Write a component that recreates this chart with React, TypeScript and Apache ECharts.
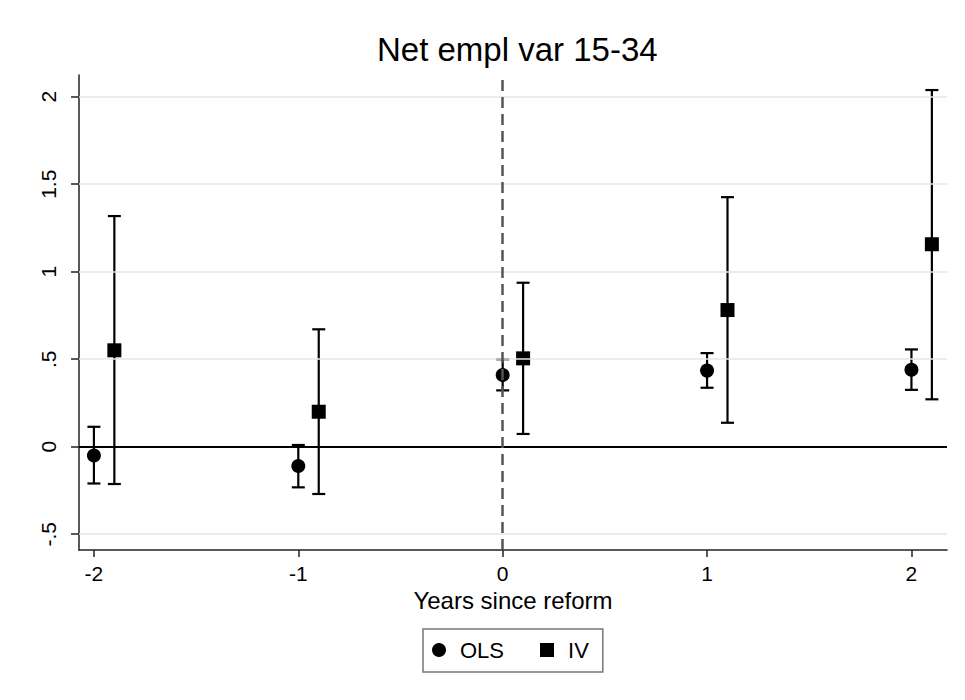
import React, { useEffect, useRef } from "react";
import * as echarts from "echarts";

const titleText = "Net empl var 15-34";
const xAxisName = "Years since reform";
const xTicks = [-2, -1, 0, 1, 2];
const yTicks = [-0.5, 0, 0.5, 1, 1.5, 2];
const yGridValues = [-0.5, 0.5, 1, 1.5, 2];

const olsX = [-2, -1, 0, 1, 2];
const olsEst = [-0.05, -0.11, 0.41, 0.435, 0.44];
const olsLo = [-0.21, -0.232, 0.322, 0.337, 0.325];
const olsHi = [0.114, 0.01, 0.5, 0.535, 0.556];

const ivX = [-1.9, -0.9, 0.1, 1.1, 2.1];
const ivEst = [0.551, 0.2, 0.505, 0.781, 1.157];
const ivLo = [-0.213, -0.27, 0.073, 0.137, 0.271];
const ivHi = [1.318, 0.671, 0.937, 1.426, 2.038];

const FONT = "Liberation Sans";

function fmt(v: number): string {
  if (v === 0) return "0";
  return String(v).replace("0.", ".");
}

function errorBarRender(params: any, api: any) {
  const x = api.value(0);
  const lo = api.coord([x, api.value(1)]);
  const hi = api.coord([x, api.value(2)]);
  const hw = 6.5;
  const style = { stroke: "#000", lineWidth: 2.2 };
  return {
    type: "group",
    children: [
      { type: "line", shape: { x1: lo[0], y1: lo[1], x2: hi[0], y2: hi[1] }, style },
      { type: "line", shape: { x1: lo[0] - hw, y1: lo[1], x2: lo[0] + hw, y2: lo[1] }, style },
      { type: "line", shape: { x1: hi[0] - hw, y1: hi[1], x2: hi[0] + hw, y2: hi[1] }, style },
    ],
  };
}

export default function App() {
  const ref = useRef<HTMLDivElement>(null);
  useEffect(() => {
    document.body.style.margin = "0";
    if (!ref.current) return;
    const chart = echarts.init(ref.current, undefined, { renderer: "svg" });
    const olsBars = olsX.map((x, i) => [x, olsLo[i], olsHi[i]]);
    const ivBars = ivX.map((x, i) => [x, ivLo[i], ivHi[i]]);
    const labelStyle = { fontFamily: FONT, fontSize: 21, color: "#000" };
    chart.setOption({
      animation: false,
      backgroundColor: "#fff",
      title: {
        text: titleText,
        left: 372,
        top: 28,
        textStyle: { fontFamily: FONT, fontSize: 33, fontWeight: "normal", color: "#000" },
      },
      grid: { left: 79, right: 18, top: 75, bottom: 150, containLabel: false, outerBoundsMode: "none" },
      legend: {
        data: [
          { name: "OLS", icon: "circle", itemStyle: { color: "#000", opacity: 1 } },
          { name: "IV", icon: "rect", itemStyle: { color: "#000", opacity: 1 } },
        ],
        left: 423,
        top: 629,
        orient: "horizontal",
        itemWidth: 14,
        itemHeight: 14,
        itemGap: 36,
        padding: [10, 14, 11, 9],
        borderColor: "#777",
        borderWidth: 1.5,
        borderRadius: 0,
        selectedMode: false,
        textStyle: { fontFamily: FONT, fontSize: 22, color: "#000", padding: [0, 0, 0, 9] },
      },
      xAxis: {
        type: "value",
        min: -2.073,
        max: 2.174,
        name: xAxisName,
        nameLocation: "middle",
        nameGap: 38,
        nameTextStyle: { fontFamily: FONT, fontSize: 24, color: "#000" },
        axisLine: { show: true, onZero: false, lineStyle: { color: "#222", width: 1.5 } },
        axisTick: { show: true, length: 7, customValues: xTicks, lineStyle: { color: "#222", width: 1.5 } },
        axisLabel: { show: true, customValues: xTicks, margin: 13, ...labelStyle, formatter: (v: number) => fmt(v) },
        splitLine: { show: false },
      },
      yAxis: {
        type: "value",
        min: -0.59,
        max: 2.124,
        axisLine: { show: true, onZero: false, lineStyle: { color: "#222", width: 1.5 } },
        axisTick: { show: true, length: 8, customValues: yTicks, lineStyle: { color: "#222", width: 1.5 } },
        axisLabel: { show: true, customValues: yTicks, rotate: 90, margin: 20, ...labelStyle, formatter: (v: number) => fmt(v) },
        splitLine: { show: false },
      },
      series: [
        {
          type: "line",
          name: "grid",
          data: [],
          silent: true,
          z: 1,
          markLine: {
            silent: true,
            symbol: "none",
            label: { show: false },
            lineStyle: { color: "#e6e6e6", width: 1.5, type: "solid" },
            data: yGridValues.map((v) => ({ yAxis: v })),
          },
        },
        {
          type: "line",
          name: "refs",
          data: [],
          silent: true,
          z: 2,
          markLine: {
            silent: true,
            symbol: "none",
            label: { show: false },
            data: [
              { yAxis: 0, lineStyle: { color: "#000", width: 2.2, type: "solid" } },
              { xAxis: 0, lineStyle: { color: "#555", width: 2.5, type: [11, 6] } },
            ],
          },
        },
        { type: "custom", name: "OLS CI", renderItem: errorBarRender, data: olsBars, z: 3, silent: true },
        { type: "custom", name: "IV CI", renderItem: errorBarRender, data: ivBars, z: 3, silent: true },
        {
          type: "scatter",
          name: "OLS",
          symbol: "circle",
          symbolSize: 14,
          itemStyle: { color: "#000", opacity: 1 },
          data: olsX.map((x, i) => [x, olsEst[i]]),
          z: 4,
        },
        {
          type: "scatter",
          name: "IV",
          symbol: "rect",
          symbolSize: 14,
          itemStyle: { color: "#000", opacity: 1 },
          data: ivX.map((x, i) => [x, ivEst[i]]),
          z: 4,
        },
      ],
    });
    return () => chart.dispose();
  }, []);
  return <div ref={ref} style={{ width: 965, height: 700 }} />;
}
